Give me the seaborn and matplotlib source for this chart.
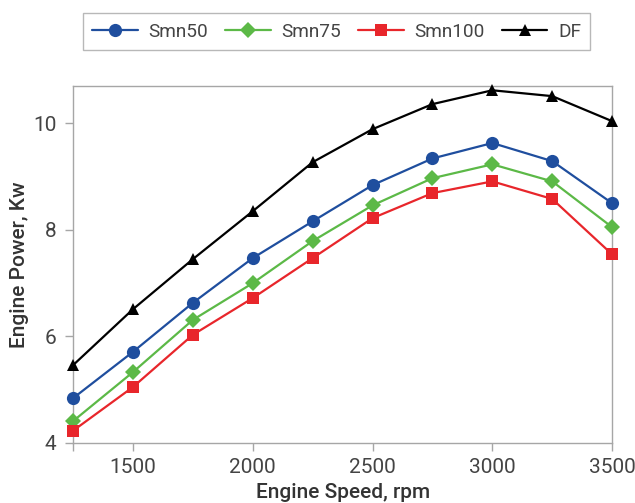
import numpy as np
import pandas as pd
import matplotlib
matplotlib.use('Agg')
import matplotlib.pyplot as plt
import seaborn as sns

# Data
speed = [1250, 1500, 1750, 2000, 2250, 2500, 2750, 3000, 3250, 3500]
smn50 = [4.84, 5.71, 6.63, 7.47, 8.16, 8.84, 9.34, 9.63, 9.29, 8.50]
smn75 = [4.41, 5.33, 6.31, 7.00, 7.79, 8.46, 8.97, 9.23, 8.91, 8.05]
smn100 = [4.23, 5.05, 6.03, 6.72, 7.47, 8.22, 8.69, 8.91, 8.58, 7.54]
df_fuel = [5.46, 6.51, 7.45, 8.35, 9.27, 9.89, 10.36, 10.62, 10.51, 10.04]

series_names = ['Smn50', 'Smn75', 'Smn100', 'DF']
x_ticks = [1250, 1500, 2000, 2500, 3000, 3500]
x_tick_labels = ['', '1500', '2000', '2500', '3000', '3500']
y_ticks = [4, 6, 8, 10]

data = pd.DataFrame({
    'speed': speed * 4,
    'power': smn50 + smn75 + smn100 + df_fuel,
    'fuel': np.repeat(series_names, len(speed)),
})

colors = {'Smn50': '#1f4e9e', 'Smn75': '#5cb947', 'Smn100': '#e8262b', 'DF': '#000000'}
markers = {'Smn50': 'o', 'Smn75': 'D', 'Smn100': 's', 'DF': '^'}
msizes = {'Smn50': 9.5, 'Smn75': 8, 'Smn100': 8.5, 'DF': 9}

sns.set_style('white')
plt.rcParams['font.family'] = ['Roboto', 'DejaVu Sans']
text_color = '#444444'
edge_color = '#a6a6a6'

fig = plt.figure(figsize=(6.35, 5.03), dpi=100)
ax = fig.add_axes([0.115, 0.1193, 0.849, 0.7097])

for name in series_names:
    sub = data[data['fuel'] == name]
    sns.lineplot(data=sub, x='speed', y='power', ax=ax, color=colors[name],
                 marker=markers[name], markersize=msizes[name], markeredgewidth=0,
                 linewidth=1.6, label=name, clip_on=False, zorder=3)

ax.set_xlim(1250, 3500)
ax.set_ylim(4, 10.7)
ax.set_xticks(x_ticks)
ax.set_xticklabels(x_tick_labels)
ax.set_yticks(y_ticks)
ax.tick_params(axis='both', labelsize=15, colors=text_color, length=6,
               width=1, direction='out', color=edge_color, bottom=True, left=True)
ax.tick_params(axis='x', pad=5)
ax.tick_params(axis='y', pad=6)
for spine in ax.spines.values():
    spine.set_color(edge_color)
    spine.set_linewidth(1)

ax.set_xlabel('Engine Speed, rpm', fontsize=15, color='#333333', labelpad=4, fontweight='medium')
ax.set_ylabel('Engine Power, Kw', fontsize=15, color='#333333', labelpad=3, fontweight='medium')

ax.legend(loc='center', bbox_to_anchor=(0.53, 0.937), bbox_transform=fig.transFigure,
          ncol=4, frameon=True, fancybox=False, edgecolor=edge_color,
          fontsize=13.7, handlelength=2.4, columnspacing=0.9, handletextpad=0.55,
          borderpad=0.5, labelcolor=text_color)
ax.get_legend().get_frame().set_linewidth(1)

fig.savefig('out.png', dpi=100)
